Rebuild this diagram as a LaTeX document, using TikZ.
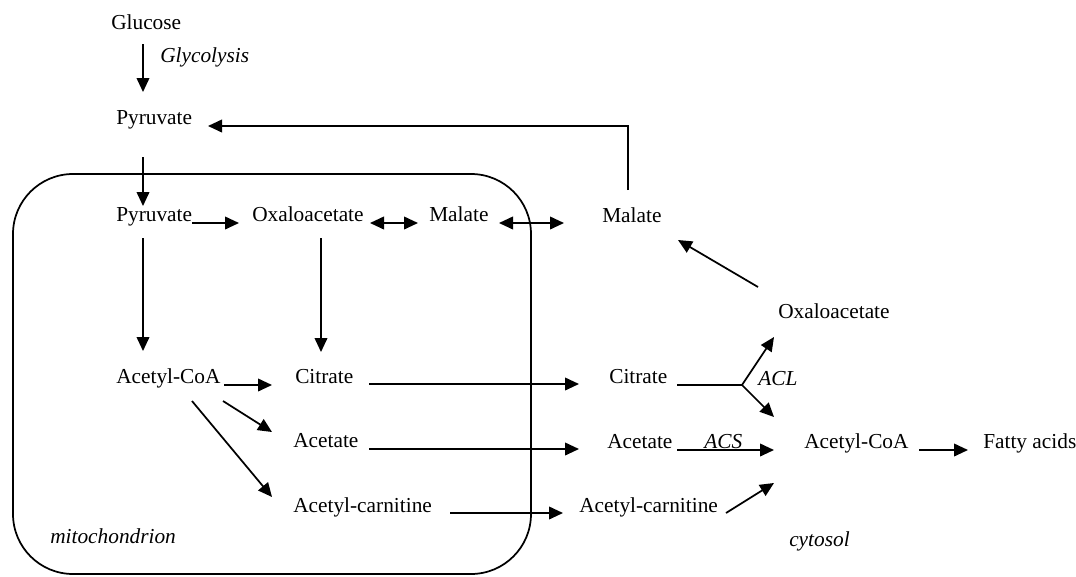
\documentclass[tikz,border=0pt]{standalone}
\usepackage{fontspec}
\setmainfont{Liberation Serif}
\usetikzlibrary{arrows.meta}
\tikzset{
  lbl/.style={anchor=base west, inner sep=0pt, font=\fontsize{16}{19}\selectfont},
  ital/.style={anchor=base west, inner sep=0pt, font=\fontsize{16}{19}\selectfont\itshape},
  arr/.style={line width=1.3pt, -{Triangle[length=10.5pt,width=9.5pt]}},
  darr/.style={line width=1.3pt, {Triangle[length=10.5pt,width=9.5pt]}-{Triangle[length=10.5pt,width=9.5pt]}},
  plain/.style={line width=1.3pt},
  membrane/.style={line width=1.3pt, rounded corners=45pt}
}
\begin{document}
\begin{tikzpicture}[x=0.75pt,y=-0.75pt]
\useasboundingbox (0,0) rectangle (1076,576);
% mitochondrion outline
\draw[membrane] (13,174) rectangle (531,574);
% labels
\node[lbl] (glu) at (111,29) {Glucose};
\node[ital] (gly) at (160,62) {Glycolysis};
\node[lbl] (pyrC) at (116,124) {Pyruvate};
\node[lbl] (pyrM) at (116,221) {Pyruvate};
\node[lbl] (oxaM) at (252,221) {Oxaloacetate};
\node[lbl] (malM) at (429,221) {Malate};
\node[lbl] (malC) at (602,222) {Malate};
\node[lbl] (oxaC) at (778,318) {Oxaloacetate};
\node[lbl] (acoaM) at (116,383) {Acetyl-CoA};
\node[lbl] (citM) at (295,383) {Citrate};
\node[lbl] (citC) at (609,383) {Citrate};
\node[ital] (acl) at (758,385) {ACL};
\node[lbl] (actM) at (293,447) {Acetate};
\node[lbl] (actC) at (607,448) {Acetate};
\node[ital] (acs) at (704,448) {ACS};
\node[lbl] (acoaC) at (804,448) {Acetyl-CoA};
\node[lbl] (fat) at (983,448) {Fatty acids};
\node[lbl] (acarM) at (293,512) {Acetyl-carnitine};
\node[lbl] (acarC) at (579,512) {Acetyl-carnitine};
\node[ital] (mito) at (50,543) {mitochondrion};
\node[ital] (cyto) at (789,546) {cytosol};
% connectors
\draw[arr] ([shift={(32,15)}]glu.base west) -- ([shift={(27,-32)}]pyrC.base west);
\draw[arr] ([shift={(26,-32)}]malC.base west) |- ([shift={(92,2)}]pyrC.base west);
\draw[arr] ([shift={(27,33)}]pyrC.base west) -- ([shift={(27,-15)}]pyrM.base west);
\draw[arr] ([shift={(76,2)}]pyrM.base west) -- ([shift={(-13,2)}]oxaM.base west);
\draw[darr] ([shift={(118,2)}]oxaM.base west) -- ([shift={(-11,2)}]malM.base west);
\draw[darr] ([shift={(70,2)}]malM.base west) -- ([shift={(-38,1)}]malC.base west);
\draw[arr] ([shift={(-20,-31)}]oxaC.base west) -- ([shift={(76,18)}]malC.base west);
\draw[arr] ([shift={(27,17)}]pyrM.base west) -- ([shift={(27,-32)}]acoaM.base west);
\draw[arr] ([shift={(69,17)}]oxaM.base west) -- ([shift={(26,-31)}]citM.base west);
\draw[arr] ([shift={(108,2)}]acoaM.base west) -- ([shift={(-23,2)}]citM.base west);
\draw[arr] ([shift={(107,18)}]acoaM.base west) -- ([shift={(-21,-15)}]actM.base west);
\draw[arr] ([shift={(76,18)}]acoaM.base west) -- ([shift={(-21,-15)}]acarM.base west);
\draw[arr] ([shift={(74,1)}]citM.base west) -- ([shift={(-30,1)}]citC.base west);
\draw[arr] ([shift={(76,2)}]actM.base west) -- ([shift={(-28,1)}]actC.base west);
\draw[arr] ([shift={(157,1)}]acarM.base west) -- ([shift={(-16,1)}]acarC.base west);
\coordinate (aclpt) at ([shift={(-16,0)}]acl.base west);
\draw[plain] ([shift={(68,2)}]citC.base west) -- (aclpt);
\draw[arr] (aclpt) -- ([shift={(-4,19)}]oxaC.base west);
\draw[arr] (aclpt) -- ([shift={(-30,-31)}]acoaC.base west);
\draw[arr] ([shift={(70,2)}]actC.base west) -- ([shift={(-30,2)}]acoaC.base west);
\draw[arr] ([shift={(147,1)}]acarC.base west) -- ([shift={(-30,35)}]acoaC.base west);
\draw[arr] ([shift={(115,2)}]acoaC.base west) -- ([shift={(-15,2)}]fat.base west);
\end{tikzpicture}
\end{document}
